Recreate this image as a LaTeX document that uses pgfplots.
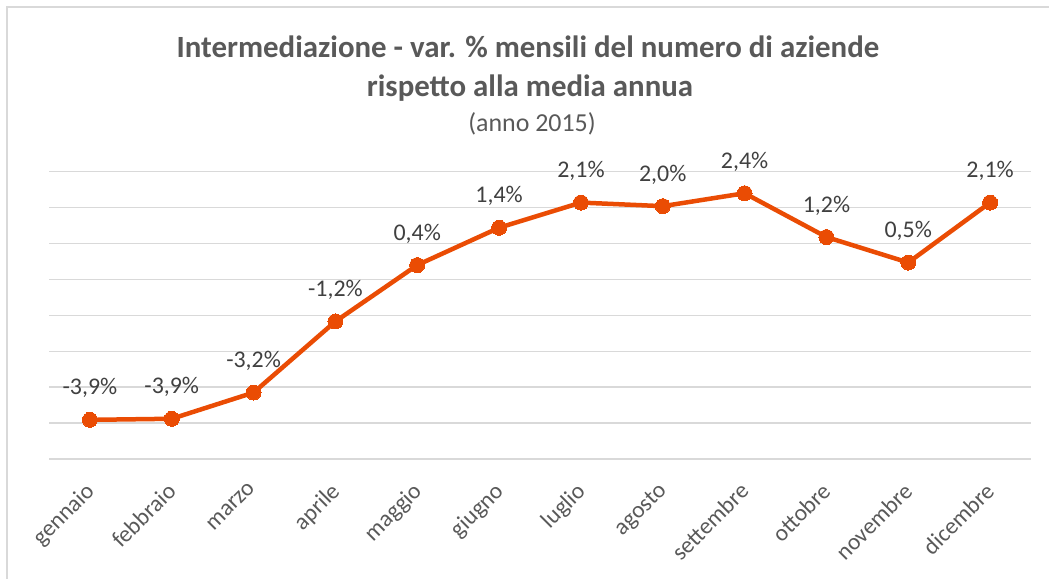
\documentclass[border=0pt]{standalone}
\usepackage{pgfplots}
\pgfplotsset{compat=1.18}
\usepackage{pgfplotstable}
\usepackage{fontspec}
\setmainfont{Carlito}
\definecolor{lineor}{RGB}{234,76,4}
\definecolor{gridc}{RGB}{217,217,217}
\definecolor{txt}{RGB}{89,89,89}
\definecolor{lab}{RGB}{64,64,64}
\pgfplotstableread{
x y lab
0 -3.91 -3,9\%
1 -3.88 -3,9\%
2 -3.15 -3,2\%
3 -1.17 -1,2\%
4 0.40 0,4\%
5 1.44 1,4\%
6 2.14 2,1\%
7 2.04 2,0\%
8 2.40 2,4\%
9 1.18 1,2\%
10 0.47 0,5\%
11 2.14 2,1\%
}\datatable
\begin{document}
\begin{tikzpicture}[x=1bp,y=1bp]
\path[use as bounding box] (0,0) rectangle (1049,579);
\draw[gridc, line width=2bp] (7,-10) -- (7,572) -- (1060,572);
\node[anchor=base, text=txt, font=\fontsize{31}{36}\selectfont\bfseries] at (528,521) {Intermediazione - var. \% mensili del numero di aziende};
\node[anchor=base, text=txt, font=\fontsize{31}{36}\selectfont\bfseries] at (530,482) {rispetto alla media annua};
\node[anchor=base, text=txt, font=\fontsize{26}{30}\selectfont] at (532,447) {(anno 2015)};
\begin{axis}[
  at={(49bp,120bp)}, anchor=south west,
  scale only axis, width=982bp, height=287.3bp,
  xmin=-0.5, xmax=11.5, ymin=-5, ymax=3,
  axis line style={draw=none},
  ytick={-5,-4,...,3}, yticklabels={},
  ymajorgrids, grid style={gridc, line width=1.5bp},
  major tick length=0pt,
  xtick={0,...,11},
  xticklabels={gennaio,febbraio,marzo,aprile,maggio,giugno,luglio,agosto,settembre,ottobre,novembre,dicembre},
  xticklabel style={xshift=-6bp, yshift=-22bp, rotate=45, anchor=north east, text=txt, font=\fontsize{23.5}{28}\selectfont, inner sep=0pt},
  clip=false,
]
\addplot[lineor, line width=4.5bp, mark=*, mark size=7.5bp, mark options={fill=lineor, draw=lineor, line width=0pt},
  point meta=explicit symbolic,
  nodes near coords,
  every node near coord/.append style={anchor=base, yshift=25bp, inner sep=0pt, text=lab, font=\fontsize{24}{28}\selectfont}]
  table[x=x, y=y, meta=lab] {\datatable};
\end{axis}
\end{tikzpicture}
\end{document}
